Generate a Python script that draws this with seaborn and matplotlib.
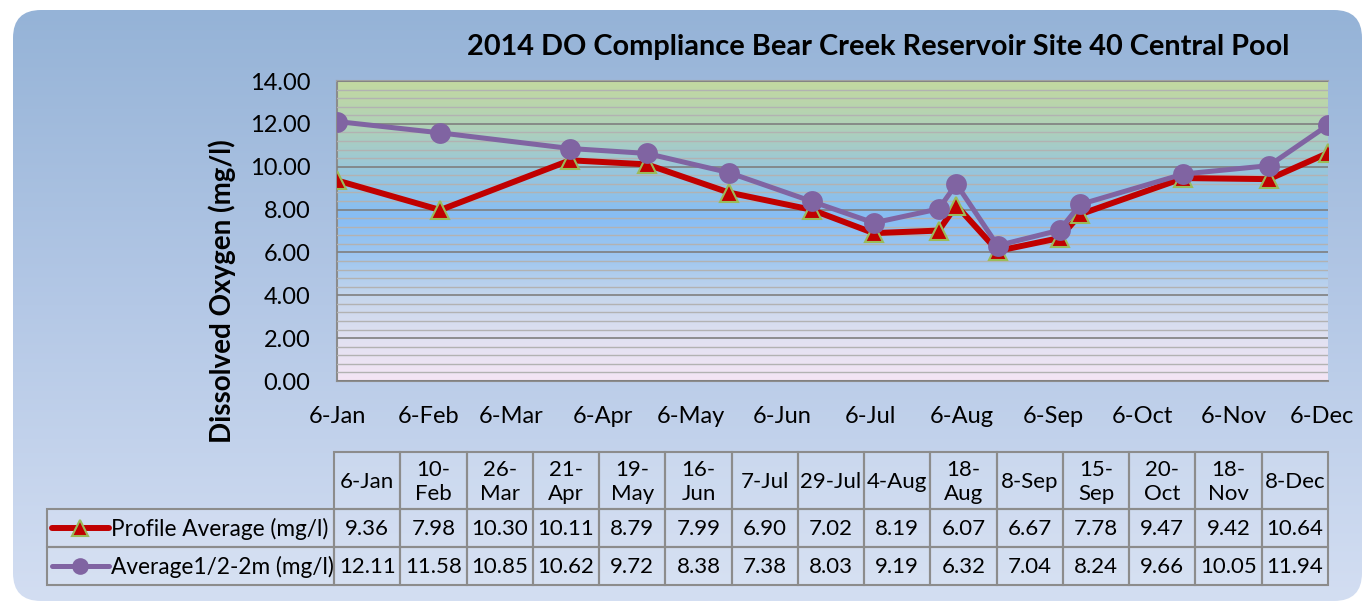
import numpy as np
import pandas as pd
import matplotlib
matplotlib.use("Agg")
import matplotlib.pyplot as plt
import seaborn as sns
import matplotlib.dates as mdates
from matplotlib.patches import FancyBboxPatch, Rectangle
from matplotlib.colors import LinearSegmentedColormap
from matplotlib.lines import Line2D

# ---------------- data ----------------
sample_dates = ["2014-01-06", "2014-02-10", "2014-03-26", "2014-04-21", "2014-05-19",
                "2014-06-16", "2014-07-07", "2014-07-29", "2014-08-04", "2014-08-18",
                "2014-09-08", "2014-09-15", "2014-10-20", "2014-11-18", "2014-12-08"]
table_headers = ["6-Jan", "10-\nFeb", "26-\nMar", "21-\nApr", "19-\nMay", "16-\nJun",
                 "7-Jul", "29-Jul", "4-Aug", "18-\nAug", "8-Sep", "15-\nSep",
                 "20-\nOct", "18-\nNov", "8-Dec"]
profile_avg = [9.36, 7.98, 10.30, 10.11, 8.79, 7.99, 6.90, 7.02, 8.19, 6.07,
               6.67, 7.78, 9.47, 9.42, 10.64]
avg_half_2m = [12.11, 11.58, 10.85, 10.62, 9.72, 8.38, 7.38, 8.03, 9.19, 6.32,
               7.04, 8.24, 9.66, 10.05, 11.94]
series_names = ["Profile Average (mg/l)", "Average1/2-2m (mg/l)"]
tick_dates = ["2014-01-06", "2014-02-06", "2014-03-06", "2014-04-06", "2014-05-06",
              "2014-06-06", "2014-07-06", "2014-08-06", "2014-09-06", "2014-10-06",
              "2014-11-06", "2014-12-06"]
tick_labels = ["6-Jan", "6-Feb", "6-Mar", "6-Apr", "6-May", "6-Jun", "6-Jul",
               "6-Aug", "6-Sep", "6-Oct", "6-Nov", "6-Dec"]
y_ticks = [0, 2, 4, 6, 8, 10, 12, 14]
title = "2014 DO Compliance Bear Creek Reservoir Site 40 Central Pool"
y_label = "Dissolved Oxygen (mg/l)"

RED = "#c00000"
RED_EDGE = "#9bbb59"
PURPLE = "#8064a2"

sns.set_theme(style="white")
plt.rcParams["font.family"] = ["Lato", "DejaVu Sans"]
plt.rcParams["text.color"] = "black"

W, H = 1372, 605
fig = plt.figure(figsize=(W / 100, H / 100), dpi=100, facecolor="white")

# ---------------- outer rounded background ----------------
bg = fig.add_axes([0, 0, 1, 1], zorder=-10)
bg.set_xlim(0, W)
bg.set_ylim(H, 0)
bg.axis("off")
bg_cmap = LinearSegmentedColormap.from_list("bg", ["#95b3d7", "#b4c8e6", "#d3def2"])
grad = np.linspace(0, 1, 256).reshape(-1, 1)
im = bg.imshow(grad, cmap=bg_cmap, extent=[13, 1362, 601, 10], aspect="auto")
box = FancyBboxPatch((13 + 28, 10 + 28), 1362 - 13 - 56, 601 - 10 - 56,
                     boxstyle="round,pad=28", transform=bg.transData,
                     facecolor="none", edgecolor="none")
bg.add_patch(box)
im.set_clip_path(box)

# ---------------- main chart ----------------
ax = fig.add_axes([337 / W, 1 - 381 / H, (1328 - 337) / W, 300 / H])
plot_cmap = LinearSegmentedColormap.from_list(
    "plot",
    [(0.0, "#c3d9a0"), (0.15, "#b0d1b8"), (0.3, "#98c6dc"), (0.45, "#87bdf4"),
     (0.6, "#a2c8f0"), (0.72, "#c6d6ec"), (0.86, "#e1e1f1"), (1.0, "#f4e5f5")])

dates = pd.to_datetime(sample_dates)
xmin = mdates.date2num(pd.Timestamp("2014-01-06"))
xmax = mdates.date2num(pd.Timestamp("2014-12-08"))
ax.imshow(grad, cmap=plot_cmap, extent=[xmin, xmax, 0, 14], aspect="auto", zorder=0)

df = pd.DataFrame({"date": dates, "profile": profile_avg, "avg": avg_half_2m})

sns.lineplot(data=df, x="date", y="profile", ax=ax, color=RED, lw=4.3,
             marker="^", markersize=13, markerfacecolor=RED,
             markeredgecolor=RED_EDGE, markeredgewidth=1.5, zorder=3)
sns.lineplot(data=df, x="date", y="avg", ax=ax, color=PURPLE, lw=3.6,
             marker="o", markersize=15, markerfacecolor=PURPLE,
             markeredgecolor=PURPLE, markeredgewidth=0, zorder=4)

ax.set_xlim(xmin, xmax)
ax.set_ylim(0, 14)
ax.set_yticks(y_ticks)
ax.set_yticklabels([f"{v:.2f}" for v in y_ticks], fontsize=17, color="black")
ax.set_yticks(np.arange(0, 14.01, 0.4), minor=True)
ax.set_xticks(mdates.date2num(pd.to_datetime(tick_dates)))
ax.set_xticklabels(tick_labels, fontsize=17, color="black")
ax.tick_params(axis="both", which="both", length=0)
ax.tick_params(axis="y", pad=19)
ax.tick_params(axis="x", pad=18)
ax.set_axisbelow(False)
ax.grid(which="minor", axis="y", color="#b2b2b2", lw=1.0)
ax.grid(which="major", axis="y", color="#7f7f7f", lw=1.2)
ax.grid(False, axis="x", which="both")
for s in ax.spines.values():
    s.set_color("#8c8c8c")
    s.set_linewidth(1.5)
ax.spines["right"].set_visible(False)
ax.spines["top"].set_color("#a0a0a0")
ax.set_xlabel("")
ax.set_ylabel(y_label, fontsize=20, fontweight="bold", color="black")
ax.yaxis.set_label_coords((236 - 337) / 991, (381 - 291) / 300)

fig.text(878 / W, 1 - 47 / H, title, fontsize=20.8, fontweight="bold",
         ha="center", va="center", color="black")

# ---------------- data table ----------------
tb = fig.add_axes([0, 0, 1, 1], zorder=5)
tb.set_xlim(0, W)
tb.set_ylim(H, 0)
tb.axis("off")
tb.patch.set_alpha(0)

left_x, first_x, right_x = 47, 334, 1328
col_w = (right_x - first_x) / len(table_headers)
row_y = [452, 509, 547, 585]
edge = "#8c8c8c"
for i, hdr in enumerate(table_headers):
    x0 = first_x + i * col_w
    tb.add_patch(Rectangle((x0, row_y[0]), col_w, row_y[1] - row_y[0],
                           facecolor=(1, 1, 1, 0.12), edgecolor=edge, lw=1.5))
    tb.text(x0 + col_w / 2, (row_y[0] + row_y[1]) / 2 + 1, hdr, ha="center",
            va="center", fontsize=16, linespacing=1.25, color="black")
rows = [(series_names[0], profile_avg, RED, "^", RED_EDGE, 11),
        (series_names[1], avg_half_2m, PURPLE, "o", PURPLE, 12)]
for r, (name, vals, col, mk, mec, ms) in enumerate(rows):
    y0, y1 = row_y[r + 1], row_y[r + 2]
    yc = (y0 + y1) / 2
    tb.add_patch(Rectangle((left_x, y0), first_x - left_x, y1 - y0,
                           facecolor=(1, 1, 1, 0.12), edgecolor=edge, lw=1.5))
    tb.add_line(Line2D([52, 109], [yc, yc], color=col, lw=4.3 if r == 0 else 3.6))
    tb.add_line(Line2D([80], [yc], marker=mk, markersize=ms, markerfacecolor=col,
                       markeredgecolor=mec, markeredgewidth=1.5 if r == 0 else 0))
    tb.text(111, yc + 1, name, ha="left", va="center", fontsize=16.3, color="black")
    for i, v in enumerate(vals):
        x0 = first_x + i * col_w
        tb.add_patch(Rectangle((x0, y0), col_w, y1 - y0,
                               facecolor=(1, 1, 1, 0.12), edgecolor=edge, lw=1.5))
        tb.text(x0 + col_w / 2, yc + 1, f"{v:.2f}", ha="center", va="center",
                fontsize=16, color="black")

fig.savefig("out.png", dpi=100, facecolor="white")
